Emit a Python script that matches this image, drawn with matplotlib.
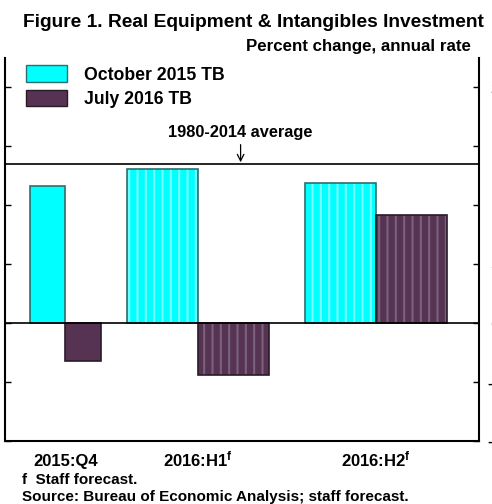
import matplotlib
matplotlib.use("Agg")
import matplotlib.pyplot as plt
from matplotlib.patches import Patch

plt.rcParams['font.family'] = ['Liberation Sans', 'DejaVu Sans']
plt.rcParams['font.weight'] = 'bold'
plt.rcParams['mathtext.fontset'] = 'custom'
plt.rcParams['mathtext.rm'] = 'Liberation Sans:bold'
plt.rcParams['mathtext.it'] = 'Liberation Sans:bold'
plt.rcParams['mathtext.bf'] = 'Liberation Sans:bold'
plt.rcParams['hatch.linewidth'] = 1.5

# data
periods = ['2015:Q4', '2016:H1$^{\\mathrm{f}}$', '2016:H2$^{\\mathrm{f}}$']
period_pos = [0.85, 2.72, 5.23]      # time axis position of each period
period_width = [0.5, 1.0, 1.0]       # quarter vs half-year
oct2015 = [11.6, 13.1, 11.9]
jul2016 = [-3.2, -4.4, 9.2]
avg_1980_2014 = 13.5
series_names = ['October 2015 TB', 'July 2016 TB']
yticks = [-10, -5, 0, 5, 10, 15, 20]

cyan = '#00FFFF'
cyan_stripe = '#7AFFFF'
cyan_edge = '#2E6E6E'
plum = '#563352'
plum_stripe = '#7A627A'
plum_edge = '#2A1A28'

fig = plt.figure(figsize=(4.92, 5.04), dpi=100)
ax = fig.add_axes([0.0102, 0.125, 0.9634, 0.76])

for i in range(len(periods)):
    w = period_width[i]
    x1 = period_pos[i] - w / 2
    x2 = period_pos[i] + w / 2
    striped = w > 0.75
    # cyan bar
    ax.bar(x1, oct2015[i], width=w, color=cyan, edgecolor=cyan_stripe if striped else cyan,
           hatch='||' if striped else None, linewidth=0, zorder=2)
    ax.bar(x1, oct2015[i], width=w, facecolor='none', edgecolor=cyan_edge, linewidth=1.2, zorder=3)
    # plum bar
    ax.bar(x2, jul2016[i], width=w, color=plum, edgecolor=plum_stripe if striped else plum,
           hatch='||' if striped else None, linewidth=0, zorder=2)
    ax.bar(x2, jul2016[i], width=w, facecolor='none', edgecolor=plum_edge, linewidth=1.2, zorder=3)

ax.axhline(0, color='black', lw=1.2, zorder=4)
ax.axhline(avg_1980_2014, color='black', lw=1.2, zorder=4)
ax.annotate('1980-2014 average', xy=(3.32, avg_1980_2014 + 0.15), xytext=(3.32, 15.5),
            ha='center', va='bottom', fontsize=11.8,
            arrowprops=dict(arrowstyle='->', color='black', lw=0.9, shrinkA=1, shrinkB=0))

ax.set_xlim(0, 6.68)
ax.set_ylim(-10, 22.5)
ax.set_xticks(period_pos)
ax.set_xticklabels(periods, fontsize=12)
for lbl in ax.get_xticklabels():
    lbl.set_verticalalignment('baseline')
ax.tick_params(axis='x', length=0, pad=18)
ax.set_yticks(yticks)
ax.tick_params(axis='y', direction='in', length=4, width=1, left=True, right=True,
               labelleft=False, labelright=True, labelsize=11, pad=6)
ax.set_yticklabels([('-' if v < 0 else ' ') + str(abs(v)) for v in yticks])
ax.spines['top'].set_visible(False)
for s in ['left', 'right', 'bottom']:
    ax.spines[s].set_linewidth(1.5)

handles = [Patch(facecolor=cyan, edgecolor=cyan_edge, lw=1),
           Patch(facecolor=plum, edgecolor=plum_edge, lw=1)]
ax.legend(handles, series_names, loc='upper left', bbox_to_anchor=(0.011, 1.022), frameon=False,
          fontsize=12.7, handlelength=2.3, handleheight=1.05, handletextpad=1.0, labelspacing=0.35)

fig.text(0.984, 0.956, 'Figure 1. Real Equipment & Intangibles Investment', ha='right', va='center', fontsize=13.8)
fig.text(0.957, 0.907, 'Percent change, annual rate', ha='right', va='center', fontsize=12.2)
fig.text(0.045, 0.048, 'f  Staff forecast.', ha='left', va='center', fontsize=11)
fig.text(0.045, 0.013, 'Source: Bureau of Economic Analysis; staff forecast.', ha='left', va='center', fontsize=11)

fig.savefig('out.png', dpi=100)
